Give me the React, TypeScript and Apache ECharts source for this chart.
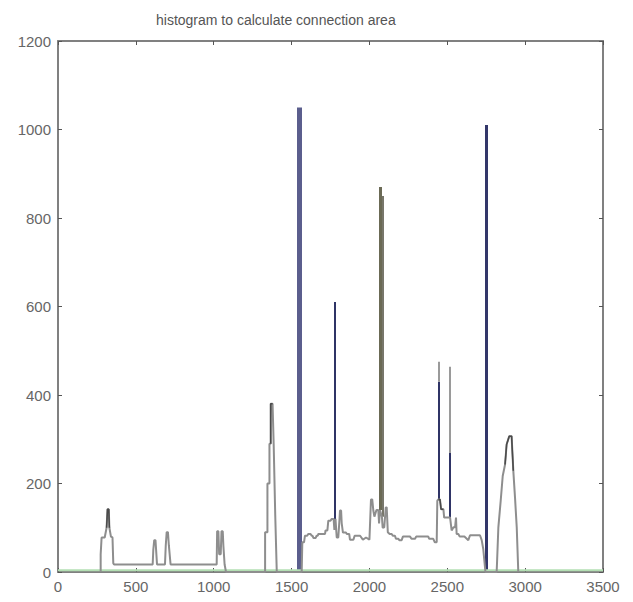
import React, { useEffect, useRef } from "react";
import * as echarts from "echarts";

const titleText = "histogram to calculate connection area";
const xMin = 0;
const xMax = 3500;
const xStep = 500;
const yMin = 0;
const yMax = 1200;
const yStep = 200;

// main gray histogram outline [bin, count]
const histogram: [number, number][] = [
  [274, 0], [274, 40], [280, 78], [300, 78], [312, 100], [318, 142], [326, 142], [330, 100], [340, 80], [350, 78], [355, 20], [360, 17],
  [608, 17], [612, 50], [618, 72], [626, 72], [630, 50], [636, 17],
  [687, 17], [692, 60], [698, 90], [706, 90], [712, 60], [723, 17],
  [1019, 17], [1022, 92], [1030, 92], [1035, 40], [1045, 40], [1050, 92], [1058, 92], [1062, 60], [1070, 17], [1079, 0],
  [1330, 0], [1330, 90], [1345, 90], [1345, 200], [1358, 200], [1358, 290], [1366, 290], [1366, 380], [1378, 380], [1385, 290], [1395, 130], [1405, 0],
  [1565, 0], [1569, 67], [1580, 67], [1586, 82], [1600, 82], [1608, 86], [1622, 86], [1629, 82], [1635, 82], [1640, 77], [1655, 77],
  [1661, 82], [1668, 82], [1672, 86], [1715, 86], [1718, 94], [1730, 94], [1736, 116], [1750, 116], [1758, 120], [1770, 120], [1775, 95],
  [1782, 120], [1790, 78], [1800, 78], [1808, 120], [1811, 139], [1818, 139], [1822, 110], [1830, 89], [1850, 89], [1854, 86], [1870, 86],
  [1875, 73], [1897, 73], [1905, 82], [1935, 82], [1940, 82], [1958, 73], [1978, 78], [2000, 73], [2004, 73], [2010, 164], [2018, 164],
  [2025, 139], [2032, 125], [2045, 140], [2057, 140], [2062, 110], [2068, 140], [2080, 125], [2085, 100], [2095, 101], [2105, 146],
  [2111, 146], [2118, 90], [2130, 86], [2143, 86], [2150, 82], [2164, 82], [2170, 75], [2186, 75], [2192, 72], [2207, 72], [2215, 80],
  [2261, 80], [2270, 75], [2293, 75], [2300, 80], [2378, 80], [2384, 75], [2410, 75], [2420, 67], [2432, 67], [2436, 161], [2443, 164],
  [2453, 164], [2460, 142], [2475, 142], [2480, 123], [2518, 123], [2528, 94], [2540, 101], [2550, 101], [2556, 123], [2560, 86],
  [2571, 86], [2580, 80], [2610, 80], [2635, 72], [2646, 83], [2710, 83], [2721, 72], [2731, 52], [2738, 26], [2745, 0],
  [2817, 0], [2820, 26], [2828, 101], [2843, 161], [2856, 217], [2871, 243], [2881, 288], [2898, 307], [2913, 307], [2924, 229],
  [2935, 168], [2946, 101], [2956, 0],
];

// darker overlay pieces of the outline
const darkPieces: [number, number][][] = [
  [[312, 100], [318, 142], [326, 142], [330, 100]],
  [[1366, 290], [1366, 380], [1378, 380]],
  [[2443, 164], [2453, 164], [2460, 142], [2475, 142]],
  [[2871, 243], [2881, 288], [2898, 307], [2913, 307], [2924, 229]],
];

// light green zero line
const baseline: [number, number][] = [[0, 4], [3500, 4]];

// tall single-bin spikes
const spikeX = [1550, 1775, 2068, 2085, 2443, 2443, 2518, 2518, 2749];
const spikeFrom = [0, 95, 140, 125, 164, 430, 123, 269, 0];
const spikeTo = [1050, 610, 870, 850, 430, 475, 269, 464, 1010];
const spikeColor = ["#5b5e8d", "#2f3466", "#6b6a55", "#77766a", "#2f3466", "#9a9a9a", "#2f3466", "#9a9a9a", "#33376a"];
const spikeWidth = [5, 2, 3, 2, 2, 2, 2, 2, 3];

export default function App() {
  const ref = useRef<HTMLDivElement>(null);
  useEffect(() => {
    if (!ref.current) return;
    const chart = echarts.init(ref.current, undefined, { renderer: "svg" });
    const font = "'Liberation Sans', Arial, sans-serif";
    const axisColor = "#808080";
    const tick = { show: true, inside: true, length: 4, lineStyle: { color: "#555", width: 1 } };
    const line = { show: true, onZero: false, lineStyle: { color: axisColor, width: 2 } };
    const baseX = {
      type: "value" as const,
      min: xMin,
      max: xMax,
      interval: xStep,
      splitLine: { show: false },
      axisLine: line,
      axisTick: tick,
    };
    const baseY = {
      type: "value" as const,
      min: yMin,
      max: yMax,
      interval: yStep,
      splitLine: { show: false },
      axisLine: line,
      axisTick: tick,
    };
    const label = {
      color: "#666",
      fontFamily: font,
      fontSize: 15,
      margin: 7,
      formatter: (v: number) => String(v),
    };
    chart.setOption({
      animation: false,
      backgroundColor: "#ffffff",
      title: {
        text: titleText,
        left: 143,
        top: 0,
        textStyle: { fontFamily: font, fontSize: 14, fontWeight: "normal", color: "#555" },
      },
      grid: { left: 50, right: 22, top: 33, bottom: 19, show: false },
      xAxis: [
        { ...baseX, position: "bottom", axisLabel: label },
        { ...baseX, position: "top", axisLabel: { show: false } },
      ],
      yAxis: [
        { ...baseY, position: "left", axisLabel: label },
        { ...baseY, position: "right", axisLabel: { show: false } },
      ],
      series: [
        {
          type: "line",
          data: baseline,
          symbol: "none",
          lineStyle: { color: "#b3dfb3", width: 2 },
          silent: true,
        },
        {
          type: "line",
          data: histogram,
          symbol: "none",
          lineStyle: { color: "#8e8e8e", width: 2 },
          silent: true,
        },
        ...darkPieces.map((p) => ({
          type: "line",
          data: p,
          symbol: "none",
          lineStyle: { color: "#4a4a4a", width: 1.5 },
          silent: true,
        })),
        {
          type: "lines",
          coordinateSystem: "cartesian2d",
          silent: true,
          data: spikeX.map((x, i) => ({
            coords: [
              [x, spikeFrom[i]],
              [x, spikeTo[i]],
            ],
            lineStyle: { color: spikeColor[i], width: spikeWidth[i], opacity: 1 },
          })),
        },
      ],
    });
    return () => chart.dispose();
  }, []);
  return <div ref={ref} style={{ width: 617, height: 586 }} />;
}
